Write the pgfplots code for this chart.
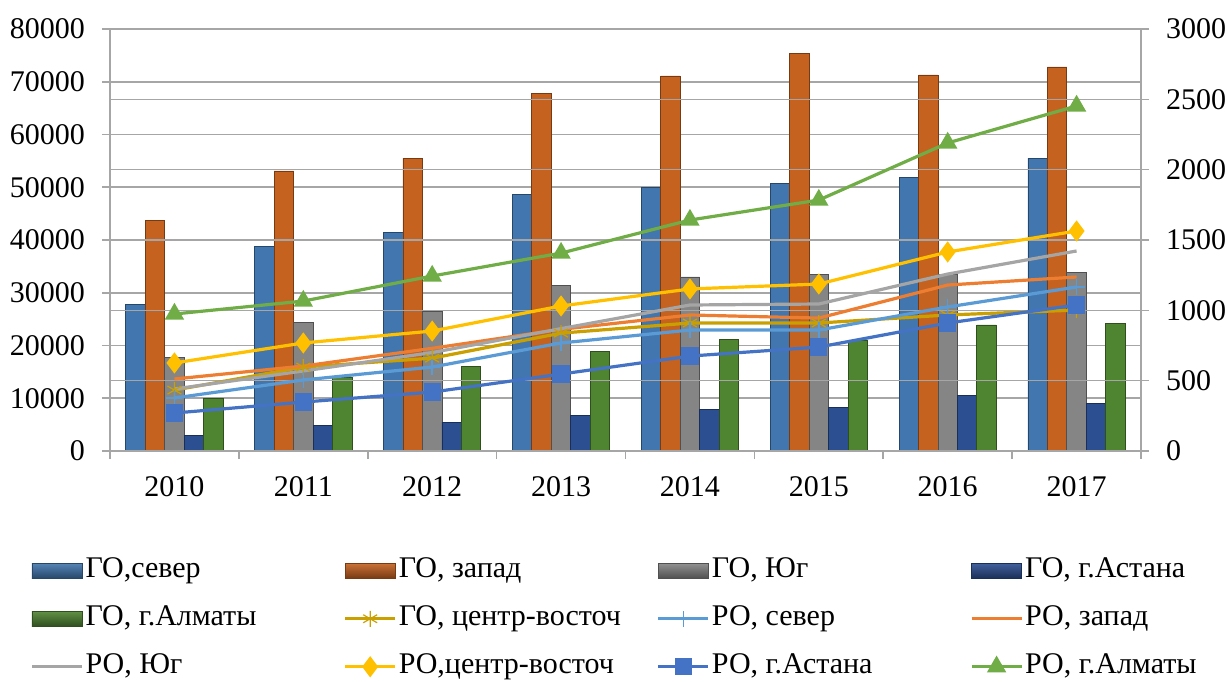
\documentclass[border=0pt]{standalone}
\usepackage{fontspec}
\setmainfont{Liberation Serif}
\usepackage{pgfplots}
\pgfplotsset{compat=1.18}
\definecolor{gridgray}{HTML}{A6A6A6}
\definecolor{cBlue}{HTML}{4177AE}
\definecolor{cOrange}{HTML}{C5621F}
\definecolor{cGray}{HTML}{858585}
\definecolor{cNavy}{HTML}{2C4F91}
\definecolor{cGreen}{HTML}{4F8431}
\definecolor{lGold}{HTML}{C9A000}
\definecolor{lBlue}{HTML}{5B9BD5}
\definecolor{lOrange}{HTML}{ED7D31}
\definecolor{lGray}{HTML}{A5A5A5}
\definecolor{lYellow}{HTML}{FFC000}
\definecolor{lNavy}{HTML}{4472C4}
\definecolor{lGreen}{HTML}{70AD47}
\newcommand\lt[1]{\makebox[128pt][l]{#1}}
\pgfplotsset{
  bevel/.style={draw=#1!60!black, line width=0.4pt, fill=#1},
  barleg/.style={legend image code/.code={\fill[top color=#1!90!white, bottom color=#1!60!black] (0pt,-3.75pt) rectangle (25pt,3.75pt);}},
  lineleg/.style={legend image code/.code={\draw[##1, sharp plot, mark repeat=2, mark phase=2] plot coordinates {(0pt,0pt) (12.5pt,0pt) (25pt,0pt)};}},
}
\begin{document}
\begin{tikzpicture}
\begin{axis}[name=main,
  scale only axis, width=515.5pt, height=211pt,
  xmin=-0.5, xmax=7.5, ymin=0, ymax=80000,
  ytick={0,10000,...,80000},
  xtick={0,...,7}, xticklabels={2010,2011,2012,2013,2014,2015,2016,2017},
  minor xtick={-0.5,0.5,...,7.5},
  axis y line*=left, axis x line*=bottom,
  ybar=0pt, bar width=0.151,
  ymajorgrids, grid style={draw=gridgray, line width=0.8pt},
  axis line style={draw=gridgray, line width=0.8pt, -},
  tick align=outside, major tick length=4pt, minor tick length=4pt,
  major x tick style={draw=none},
  minor x tick style={draw=gridgray, line width=0.8pt},
  major y tick style={draw=gridgray, line width=0.8pt},
  scaled y ticks=false,
  /pgf/number format/1000 sep={},
  /pgf/number format/assume math mode=true,
  ticklabel style={font=\fontsize{15}{18}\selectfont},
  xticklabel style={yshift=-5pt},
  yticklabel style={xshift=-5pt},
  legend columns=4,
  legend style={at={(-0.0776,-0.252)}, anchor=north west, draw=none, inner sep=0pt,
    font=\fontsize{15}{18}\selectfont, column sep=1pt, row sep=11pt,
    nodes={inner sep=0pt, text height=10pt, text depth=3pt}},
  legend cell align=left,
]
\addplot[bevel=cBlue, barleg=cBlue] coordinates {(0,27800) (1,38700) (2,41500) (3,48700) (4,49900) (5,50800) (6,51800) (7,55500)};
\addlegendentry{\lt{ГО,север}}
\addplot[bevel=cOrange, barleg=cOrange] coordinates {(0,43700) (1,53100) (2,55500) (3,67800) (4,71100) (5,75300) (6,71300) (7,72800)};
\addlegendentry{\lt{ГО, запад}}
\addplot[bevel=cGray, barleg=cGray] coordinates {(0,17800) (1,24300) (2,26500) (3,31400) (4,33000) (5,33400) (6,33400) (7,33900)};
\addlegendentry{\lt{ГО, Юг}}
\addplot[bevel=cNavy, barleg=cNavy] coordinates {(0,3000) (1,4900) (2,5500) (3,6800) (4,7800) (5,8300) (6,10600) (7,9100)};
\addlegendentry{\lt{ГО, г.Астана}}
\addplot[bevel=cGreen, barleg=cGreen] coordinates {(0,10000) (1,14000) (2,16100) (3,18900) (4,21200) (5,21000) (6,23900) (7,24200)};
\addlegendentry{\lt{ГО, г.Алматы}}
\addlegendimage{lineleg, color=lGold, line width=1.6pt, mark=asterisk, mark size=4pt, mark options={line width=0.6pt}}
\addlegendentry{\lt{ГО, центр-восточ}}
\addlegendimage{lineleg, color=lBlue, line width=1.6pt, mark=+, mark size=4pt, mark options={line width=0.8pt}}
\addlegendentry{\lt{РО, север}}
\addlegendimage{lineleg, color=lOrange, line width=1.6pt}
\addlegendentry{\lt{РО, запад}}
\addlegendimage{lineleg, color=lGray, line width=1.6pt}
\addlegendentry{\lt{РО, Юг}}
\addlegendimage{lineleg, color=lYellow, line width=1.6pt, mark=diamond*, mark size=4pt}
\addlegendentry{\lt{РО,центр-восточ}}
\addlegendimage{lineleg, color=lNavy, line width=1.6pt, mark=square*, mark size=3.5pt}
\addlegendentry{\lt{РО, г.Астана}}
\addlegendimage{lineleg, color=lGreen, line width=1.6pt, mark=triangle*, mark size=4pt}
\addlegendentry{\lt{РО, г.Алматы}}
\end{axis}
\begin{axis}[
  scale only axis, width=515.5pt, height=211pt,
  xmin=-0.5, xmax=7.5, ymin=0, ymax=3000,
  ytick={0,500,...,3000},
  axis y line*=right, axis x line=none,
  ymajorgrids, grid style={draw=gridgray, line width=0.8pt},
  axis line style={draw=gridgray, line width=0.8pt, -},
  tick align=outside, major tick length=4pt,
  major y tick style={draw=gridgray, line width=0.8pt},
  /pgf/number format/1000 sep={},
  /pgf/number format/assume math mode=true,
  ticklabel style={font=\fontsize{15}{18}\selectfont},
  yticklabel style={xshift=5pt},
]
\addplot[color=lGold, line width=1.6pt, mark=asterisk, mark size=4pt, mark options={line width=0.6pt}] coordinates {(0,433) (1,597) (2,660) (3,838) (4,910) (5,910) (6,967) (7,1002)};
\addplot[color=lBlue, line width=1.6pt, mark=+, mark size=4pt, mark options={line width=0.8pt}] coordinates {(0,377) (1,505) (2,597) (3,768) (4,860) (5,860) (6,1024) (7,1166)};
\addplot[color=lOrange, line width=1.6pt] coordinates {(0,512) (1,604) (2,730) (3,865) (4,967) (5,945) (6,1180) (7,1237)};
\addplot[color=lGray, line width=1.6pt] coordinates {(0,441) (1,569) (2,700) (3,870) (4,1038) (5,1045) (6,1258) (7,1422)};
\addplot[color=lYellow, line width=1.6pt, mark=diamond*, mark size=4pt] coordinates {(0,626) (1,768) (2,853) (3,1031) (4,1152) (5,1187) (6,1415) (7,1564)};
\addplot[color=lNavy, line width=1.6pt, mark=square*, mark size=3.5pt] coordinates {(0,270) (1,348) (2,419) (3,547) (4,675) (5,739) (6,910) (7,1038)};
\addplot[color=lGreen, line width=1.6pt, mark=triangle*, mark size=4pt] coordinates {(0,974) (1,1066) (2,1244) (3,1407) (4,1642) (5,1784) (6,2190) (7,2453)};
\end{axis}
\pgfresetboundingbox
\path[use as bounding box] ([shift={(-55pt,-115pt)}]main.south west) rectangle ([shift={(43pt,14.5pt)}]main.north east);
\end{tikzpicture}
\end{document}
